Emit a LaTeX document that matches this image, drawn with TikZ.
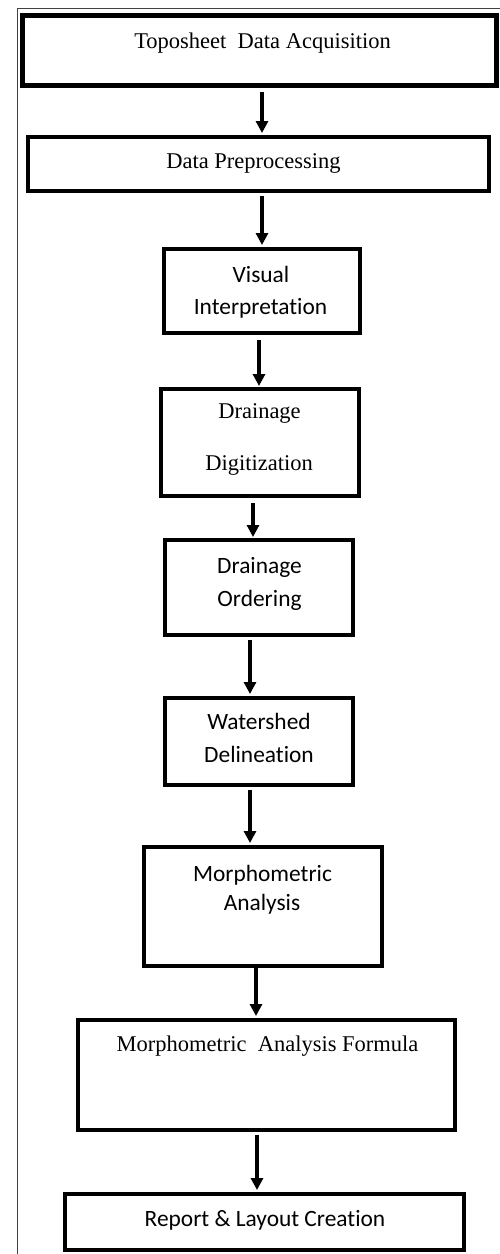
\documentclass[tikz,border=0pt]{standalone}
\usepackage{fontspec}
\setmainfont{Liberation Serif}
\newfontfamily\calfont[Ligatures=NoCommon]{Carlito}
\usetikzlibrary{arrows.meta}
\begin{document}
\begin{tikzpicture}[x=1pt,y=-1pt,
  box/.style={draw=black, line width=4pt, inner sep=0pt},
  serif/.style={font=\fontsize{22.5}{26}\selectfont, anchor=base, inner sep=0pt},
  sans/.style={font=\calfont\fontsize{23.4}{27}\selectfont, anchor=base, inner sep=0pt},
  arr/.style={line width=3.2pt, -{Triangle[width=12pt,length=12pt]}},
  frame/.style={draw=black!75, line width=1pt}]
\useasboundingbox (0,0) rectangle (500,1254);
\fill[white] (0,0) rectangle (500,1254);
% outer frame (top and left only)
\coordinate (fa) at (500,8);
\coordinate (fb) at (17,8);
\coordinate (fc) at (17,1254);
\draw[frame] (fa) -- (fb) -- (fc);
% boxes
\node[box, line width=5pt, minimum width=474pt, minimum height=70pt] (b1) at (259.5,50.5) {};
\node[box, minimum width=461pt, minimum height=54pt] (b2) at (258.5,164) {};
\node[box, minimum width=196pt, minimum height=84pt] (b3) at (262,291) {};
\node[box, minimum width=198pt, minimum height=107pt] (b4) at (260,442.5) {};
\node[box, minimum width=188pt, minimum height=95pt] (b5) at (259,587.5) {};
\node[box, minimum width=188pt, minimum height=87pt] (b6) at (259,741.5) {};
\node[box, minimum width=238pt, minimum height=119pt] (b7) at (263,906.5) {};
\node[box, minimum width=377pt, minimum height=110pt] (b8) at (266.5,1075) {};
\node[box, minimum width=399pt, minimum height=56pt] (b9) at (264.5,1222) {};
% texts
\node[serif] (t1) at (262.5,48) {Toposheet\ \ Data Acquisition};
\node[serif] (t2) at (253.5,168) {Data Preprocessing};
\node[sans] (t3a) at (261,282) {Visual};
\node[sans] (t3b) at (260.5,314) {Interpretation};
\node[serif] (t4a) at (259.5,418) {Drainage};
\node[serif] (t4b) at (259,470) {Digitization};
\node[sans] (t5a) at (259.5,573) {Drainage};
\node[sans] (t5b) at (259.5,606) {Ordering};
\node[sans] (t6a) at (259,729) {Watershed};
\node[sans] (t6b) at (259,762) {Delineation};
\node[sans] (t7a) at (262.5,881) {Morphometric};
\node[sans] (t7b) at (262,910) {Analysis};
\node[serif] (t8) at (267.5,1051) {Morphometric\ \ Analysis Formula};
\node[sans] (t9) at (265,1226) {Report \& Layout Creation};
% arrows
\draw[arr] ([yshift=-4pt]b1.south -| 262,0) -- ([yshift=2pt]b2.north -| 262,0);
\draw[arr] ([yshift=-3pt]b2.south -| 262,0) -- ([yshift=2pt]b3.north -| 262,0);
\draw[arr] ([yshift=-5pt]b3.south -| 259,0) -- ([yshift=1pt]b4.north -| 259,0);
\draw[arr] ([yshift=-5pt]b4.south -| 253,0) -- ([yshift=1pt]b5.north -| 253,0);
\draw[arr] ([yshift=-3pt]b5.south -| 250,0) -- ([yshift=2pt]b6.north -| 250,0);
\draw[arr] ([yshift=-3pt]b6.south -| 250,0) -- ([yshift=2pt]b7.north -| 250,0);
\draw[arr] (b7.south -| 256,0) -- ([yshift=2pt]b8.north -| 256,0);
\draw[arr] ([yshift=-3pt]b8.south -| 257,0) -- ([yshift=2pt]b9.north -| 257,0);
\end{tikzpicture}
\end{document}
